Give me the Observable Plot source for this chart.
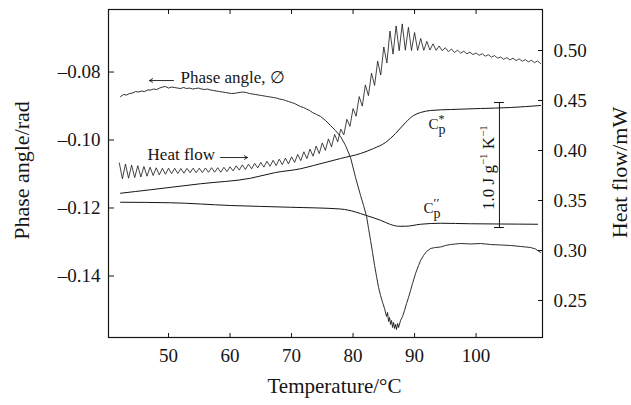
<!DOCTYPE html>
<html><head><meta charset="utf-8">
<script src="https://cdn.jsdelivr.net/npm/d3@7"></script>
<script src="https://cdn.jsdelivr.net/npm/@observablehq/plot@0.6"></script>
<style>body{margin:0;background:#fff}</style>
</head><body><div id="chart"></div>
<script>
// ---- axes / ticks ----
const xTicks = [50, 60, 70, 80, 90, 100];
const leftTicks = [-0.08, -0.10, -0.12, -0.14];      // Phase angle/rad
const rightTicks = [0.25, 0.30, 0.35, 0.40, 0.45, 0.50]; // Heat flow/mW
const xDomain = [40.24, 110.8];
const phaseDomain = [-0.1581, -0.0616];
const heatDomain = [0.213, 0.541];
const cpDomain = [-0.88, 1.744]; // J g-1 K-1, relative to scale-bar base

// ---- heat flow (mW), modulated signal, sampled every 0.5 °C from 42.0 °C ----
const hfStartT = 42.0, hfStepT = 0.5;
const heatFlow = [
 0.3875,0.3718,0.3865,0.3723,0.3854,0.3729,0.3848,0.3735,0.3840,0.3743,
 0.3833,0.3750,0.3827,0.3756,0.3822,0.3762,0.3823,0.3768,0.3822,0.3770,
 0.3820,0.3773,0.3821,0.3778,0.3823,0.3778,0.3823,0.3779,0.3825,0.3782,
 0.3828,0.3783,0.3828,0.3783,0.3832,0.3789,0.3837,0.3796,0.3847,0.3804,
 0.3857,0.3810,0.3863,0.3817,0.3871,0.3826,0.3881,0.3834,0.3892,0.3842,
 0.3902,0.3849,0.3913,0.3858,0.3924,0.3865,0.3937,0.3881,0.3961,0.3899,
 0.3987,0.3919,0.4014,0.3943,0.4044,0.3969,0.4076,0.4001,0.4116,0.4036,
 0.4161,0.4087,0.4213,0.4157,0.4312,0.4242,0.4419,0.4343,0.4539,0.4444,
 0.4656,0.4549,0.4774,0.4651,0.4894,0.4755,0.5035,0.4876,0.5194,0.4964,
 0.5246,0.4998,0.5266,0.5003,0.5232,0.5000,0.5180,0.5001,0.5120,0.5002,
 0.5091,0.5005,0.5067,0.5002,0.5045,0.4998,0.5028,0.4989,0.5014,0.4980,
 0.5003,0.4973,0.4993,0.4967,0.4983,0.4959,0.4975,0.4952,0.4967,0.4943,
 0.4958,0.4934,0.4949,0.4924,0.4935,0.4912,0.4929,0.4906,0.4923,0.4899,
 0.4916,0.4893,0.4909,0.4886,0.4902,0.4879,0.4895,0.4870];

// ---- phase angle (rad) ----
const phaseT = [42.20,42.68,43.17,43.66,44.15,44.63,45.12,45.61,46.10,46.59,47.07,47.56,48.05,48.54,49.02,49.51,50.00,50.49,50.98,51.46,51.95,52.44,52.93,53.41,53.90,54.39,54.88,55.37,55.85,56.34,56.83,57.32,57.80,58.29,58.78,59.27,59.76,60.24,60.73,61.22,61.71,62.20,62.68,63.17,63.66,64.15,64.63,65.12,65.61,66.10,66.59,67.07,67.56,68.05,68.54,69.02,69.51,70.00,70.49,70.98,71.46,71.95,72.44,72.93,73.41,74.07,74.72,75.53,76.34,77.15,77.97,78.78,79.59,80.41,81.22,81.71,82.20,82.52,82.85,83.17,83.50,83.82,84.15,84.47,84.80,85.12,85.45,85.61,85.77,85.93,86.10,86.26,86.42,86.59,86.75,86.91,87.07,87.24,87.40,87.72,88.05,88.37,88.70,89.02,89.35,89.67,90.16,90.65,90.98,91.46,91.95,92.60,93.41,94.23,95.04,95.85,96.67,97.48,99.11,100.73,102.36,103.98,105.61,107.24,108.86,109.67,110.49];
const phase = [-0.08721,-0.08662,-0.08676,-0.08632,-0.08618,-0.08574,-0.08588,-0.08559,-0.08574,-0.08529,-0.08529,-0.08500,-0.08515,-0.08471,-0.08441,-0.08426,-0.08471,-0.08441,-0.08456,-0.08471,-0.08485,-0.08456,-0.08485,-0.08471,-0.08500,-0.08485,-0.08471,-0.08500,-0.08515,-0.08500,-0.08529,-0.08544,-0.08559,-0.08574,-0.08588,-0.08603,-0.08618,-0.08632,-0.08625,-0.08612,-0.08595,-0.08590,-0.08605,-0.08632,-0.08647,-0.08662,-0.08676,-0.08691,-0.08706,-0.08721,-0.08735,-0.08750,-0.08765,-0.08794,-0.08809,-0.08838,-0.08868,-0.08897,-0.08926,-0.08971,-0.09015,-0.09044,-0.09088,-0.09132,-0.09191,-0.09250,-0.09309,-0.09426,-0.09574,-0.09721,-0.09897,-0.10162,-0.10515,-0.11103,-0.11632,-0.11926,-0.12250,-0.12603,-0.12956,-0.13309,-0.13691,-0.14015,-0.14338,-0.14574,-0.14779,-0.14956,-0.15191,-0.15074,-0.15338,-0.15221,-0.15426,-0.15309,-0.15515,-0.15368,-0.15544,-0.15426,-0.15574,-0.15397,-0.15515,-0.15309,-0.15191,-0.15015,-0.14809,-0.14632,-0.14426,-0.14221,-0.13926,-0.13691,-0.13544,-0.13397,-0.13279,-0.13191,-0.13162,-0.13147,-0.13103,-0.13074,-0.13059,-0.13044,-0.13059,-0.13044,-0.13074,-0.13088,-0.13103,-0.13132,-0.13162,-0.13206,-0.13309];

// ---- Cp* and Cp'' (J g-1 K-1, relative to scale-bar base) ----
const cpStarT = [42.2,47.07,55.2,63.33,67.4,71.46,73.58,77.97,81.22,83.33,85.28,86.91,88.54,89.84,90.98,92.6,95.85,100.73,105.61,110.49];
const cpStar = [0.274,0.302,0.350,0.394,0.440,0.470,0.496,0.552,0.592,0.632,0.680,0.752,0.840,0.896,0.920,0.936,0.944,0.952,0.960,0.976];
const cpDT = [42.2,50.33,60.08,69.84,77.97,80.41,82.03,84.47,86.1,87.4,88.54,90.98,94.23,99.11,104.0,110.0];
const cpD = [0.202,0.198,0.176,0.162,0.148,0.124,0.098,0.058,0.024,0.010,0.010,0.026,0.034,0.030,0.028,0.026];

// ---- scale bar & annotations ----
const scaleBar = {T: 103.8, from: 0, to: 1.0, cap: 0.8};
const annotations = [
  {id: "phase", label: "Phase angle, \u2205", T: 51.95, p: -0.0815, size: 17},
  {id: "heat", label: "Heat flow", T: 46.59, p: -0.10424, size: 17},
  {id: "cpstar", label: "Cp*", T: 92.28, p: -0.0952, size: 15},
  {id: "cpdd", label: "Cp''", T: 91.46, p: -0.1202, size: 15}
];
const arrows = [
  {T1: 50.8, T2: 46.9, p: -0.0825},
  {T1: 58.45, T2: 62.85, p: -0.10515}
];
const barLabel = {text: "1.0 J g-1 K-1", T: 101.97, p: -0.1081};

const hfToPhase = d3.scaleLinear(heatDomain, phaseDomain);
const cpToPhase = d3.scaleLinear(cpDomain, phaseDomain);

const hfData = heatFlow.map((v, i) => ({T: hfStartT + i * hfStepT, y: hfToPhase(v)}));
const phData = phase.map((v, i) => ({T: phaseT[i], y: v}));
const csData = cpStar.map((v, i) => ({T: cpStarT[i], y: cpToPhase(v)}));
const cdData = cpD.map((v, i) => ({T: cpDT[i], y: cpToPhase(v)}));

const ink = "#151515";
const font = "'Liberation Serif', 'Times New Roman', serif";

const chart = Plot.plot({
  width: 631, height: 405,
  marginLeft: 108, marginRight: 89, marginTop: 9, marginBottom: 68,
  style: {fontFamily: font, background: "#fff", color: ink},
  x: {domain: xDomain},
  y: {domain: phaseDomain},
  marks: [
    Plot.frame({stroke: ink, strokeWidth: 1.2}),
    Plot.line(phData, {x: "T", y: "y", stroke: ink, strokeWidth: 0.9}),
    Plot.line(hfData, {x: "T", y: "y", stroke: ink, strokeWidth: 0.8}),
    Plot.line(csData, {x: "T", y: "y", stroke: ink, strokeWidth: 1, curve: "monotone-x"}),
    Plot.line(cdData, {x: "T", y: "y", stroke: ink, strokeWidth: 1, curve: "monotone-x"}),
    Plot.ruleX([scaleBar], {x: "T", y1: d => cpToPhase(d.from), y2: d => cpToPhase(d.to), stroke: ink, strokeWidth: 1}),
    Plot.ruleY([scaleBar.from, scaleBar.to], {y: d => cpToPhase(d), x1: () => scaleBar.T - scaleBar.cap, x2: () => scaleBar.T + scaleBar.cap, stroke: ink, strokeWidth: 1}),
    Plot.arrow(arrows, {x1: "T1", x2: "T2", y1: "p", y2: "p", stroke: ink, strokeWidth: 0.9, headLength: 6}),
    ...annotations.map(a => Plot.text([a], {x: "T", y: "p", text: "label", textAnchor: "start", fontSize: a.size, fill: ink})),
    Plot.text([barLabel], {x: "T", y: "p", text: "text", rotate: -90, fontSize: 17, fill: ink}),
    // axes: labels
    Plot.axisX(xTicks, {anchor: "bottom", tickSize: 0, tickPadding: 11, fontSize: 19, label: null}),
    Plot.axisY(leftTicks, {anchor: "left", tickSize: 0, tickPadding: 8, fontSize: 19, label: null,
      tickFormat: d => "\u2013" + Math.abs(d).toFixed(2)}),
    Plot.axisY(rightTicks.map(v => hfToPhase(v)), {anchor: "right", tickSize: 0, tickPadding: 11, fontSize: 19, label: null,
      tickFormat: d => hfToPhase.invert(d).toFixed(2)}),
    // axes: inward ticks
    Plot.axisX(xTicks, {anchor: "bottom", tickSize: 4, dy: -4, tickFormat: () => "", label: null}),
    Plot.axisX(xTicks, {anchor: "top", tickSize: 4, dy: 4, tickFormat: () => "", label: null}),
    Plot.axisY(leftTicks, {anchor: "left", tickSize: 6, dx: 6, tickFormat: () => "", label: null}),
    Plot.axisY(rightTicks.map(v => hfToPhase(v)), {anchor: "right", tickSize: 5, dx: -5, tickFormat: () => "", label: null}),
    // axis titles
    Plot.text(["Phase angle/rad"], {frameAnchor: "left", textAnchor: "middle", lineAnchor: "middle", dx: -87, dy: -3, rotate: -90, fontSize: 22, fill: ink}),
    Plot.text(["Heat flow/mW"], {frameAnchor: "right", textAnchor: "middle", lineAnchor: "middle", dx: 77, dy: -1, rotate: -90, fontSize: 22, fill: ink}),
    Plot.text(["Temperature/\u00b0C"], {frameAnchor: "bottom", textAnchor: "middle", lineAnchor: "middle", dx: 9, dy: 49, fontSize: 21, fill: ink})
  ]
});

// rich text: subscripts / superscripts
const NS = "http://www.w3.org/2000/svg";
function rich(el, parts) {
  el.textContent = "";
  for (const [t, attrs] of parts) {
    const s = document.createElementNS(NS, "tspan");
    s.textContent = t;
    s.setAttribute("fill", ink);
    for (const k in attrs) s.setAttribute(k, attrs[k]);
    el.appendChild(s);
  }
}
chart.querySelectorAll("text").forEach(el => {
  const t = el.textContent;
  if (t === "Cp*") rich(el, [["C", {}], ["p", {dy: 5, "font-size": 14}], ["*", {dx: -7, dy: -11, "font-size": 12}]]);
  else if (t === "Cp''") rich(el, [["C", {}], ["p", {dy: 5, "font-size": 14}], ["\u2032\u2032", {dx: -7, dy: -11, "font-size": 13}]]);
  else if (t === "1.0 J g-1 K-1") rich(el, [["1.0 J g", {}], ["\u22121", {dy: -7, "font-size": 11}], [" K", {dy: 7}], ["\u22121", {dy: -7, "font-size": 11}]]);
});
document.getElementById("chart").appendChild(chart);
</script>
</body></html>
